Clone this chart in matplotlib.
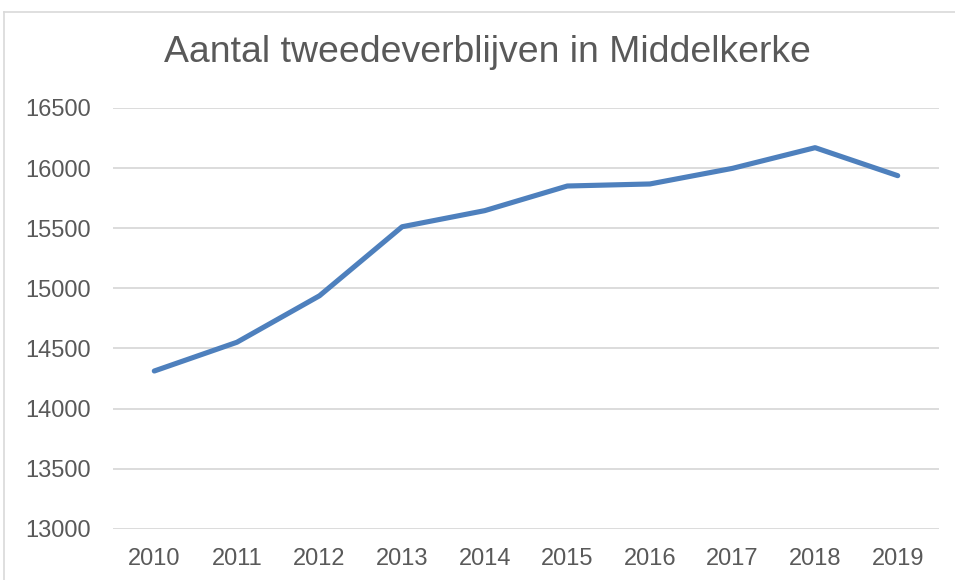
import matplotlib
matplotlib.use('Agg')
import matplotlib.pyplot as plt
from matplotlib.lines import Line2D

# second residences per year
years = ['2010', '2011', '2012', '2013', '2014', '2015', '2016', '2017', '2018', '2019']
counts = [14312, 14551, 14938, 15512, 15646, 15851, 15868, 15998, 16170, 15937]
yticks = [13000, 13500, 14000, 14500, 15000, 15500, 16000, 16500]

plt.rcParams['font.family'] = ['Liberation Sans', 'DejaVu Sans']
textColor = '#595959'

fig = plt.figure(figsize=(9.55, 5.8), dpi=100)
ax = fig.add_axes([113/955, 1 - 528.7/580, (939 - 113)/955, (528.7 - 108)/580])

ax.plot(range(len(years)), counts, color='#4E80BD', linewidth=3.7,
        solid_joinstyle='round', solid_capstyle='round', zorder=3)

ax.set_xlim(-0.5, len(years) - 0.5)
ax.set_ylim(13000, 16500)
ax.set_yticks(yticks)
ax.set_yticklabels([str(t) for t in yticks])
ax.set_xticks(range(len(years)))
ax.set_xticklabels(years)
ax.grid(axis='y', color='#D9D9D9', linewidth=1.3)
ax.set_axisbelow(True)
for s in ax.spines.values():
    s.set_visible(False)
ax.tick_params(length=0, labelsize=17, colors=textColor)
ax.tick_params(axis='y', pad=16)
ax.tick_params(axis='x', pad=14)

fig.text(487/955, 1 - 52/580, 'Aantal tweedeverblijven in Middelkerke',
         ha='center', va='center', fontsize=26.9, color=textColor)

# chart frame (top and left edges)
fig.add_artist(Line2D([4/955, 1], [1 - 12/580, 1 - 12/580], color='#D9D9D9', linewidth=1.2))
fig.add_artist(Line2D([4/955, 4/955], [0, 1 - 12/580], color='#D9D9D9', linewidth=1.2))

fig.savefig('out.png', dpi=100)
